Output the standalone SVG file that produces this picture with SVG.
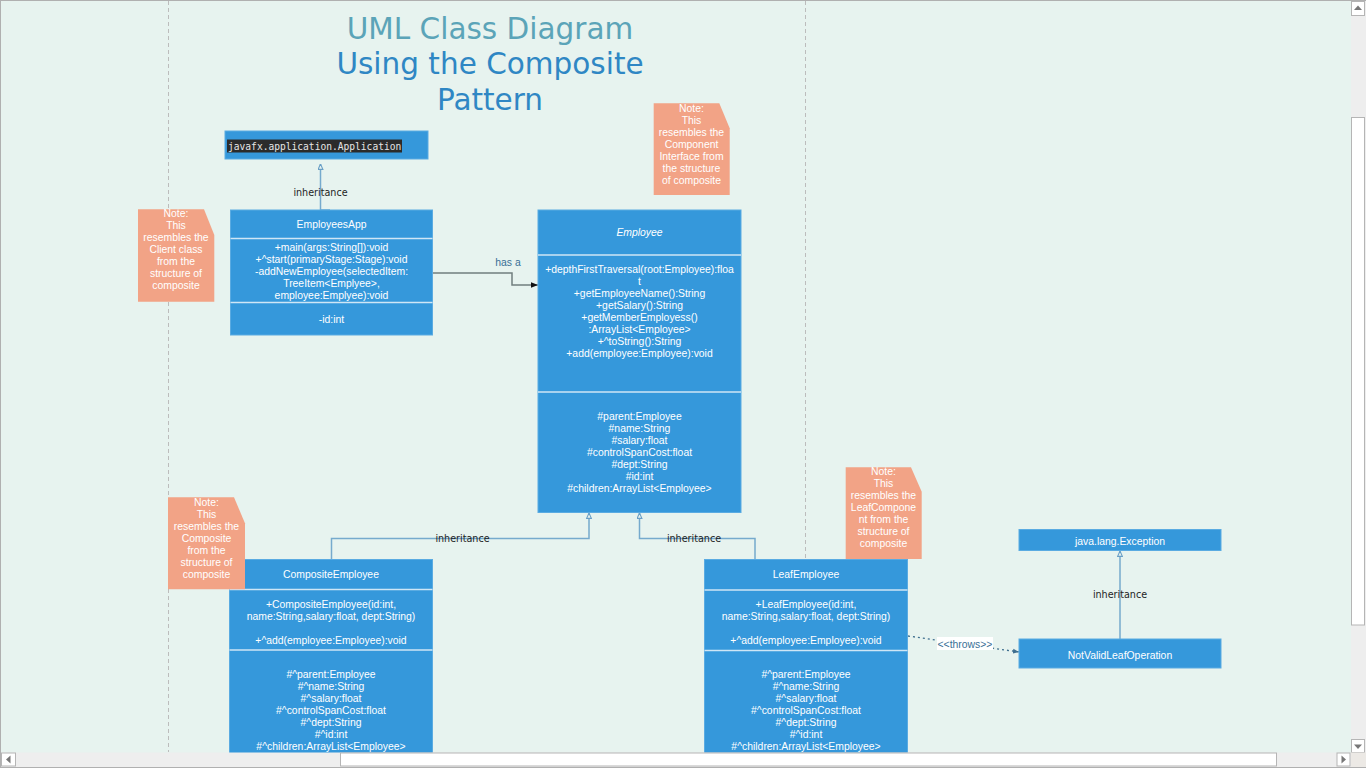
<svg xmlns="http://www.w3.org/2000/svg" width="1366" height="768" viewBox="0 0 1366 768">
<defs>
<style>
.box{fill:#3598db;stroke:#5aabe2;stroke-width:1}
.div{stroke:#cfe6f6;stroke-width:1.5}
.bt{font-family:"Liberation Sans",Arial,sans-serif;font-size:10.4px;fill:#ffffff;text-anchor:middle}
.note{fill:#f2a386}
.nt{font-family:"Liberation Sans",Arial,sans-serif;font-size:10.4px;fill:#ffffff;text-anchor:middle}
.inh{fill:none;stroke:#76aacd;stroke-width:1.5}
.lbl{font-family:"DejaVu Sans",sans-serif;font-size:9.6px;fill:#1e1e1e;text-anchor:middle}
.blbl{font-family:"Liberation Sans",Arial,sans-serif;font-size:10.4px;fill:#3a6f96;text-anchor:middle}
.sb{fill:#ffffff;stroke:#b5b5b5;stroke-width:1}
.tri{fill:#777777}
</style>
<marker id="hollow" viewBox="0 0 10 10" refX="10" refY="5" markerWidth="6" markerHeight="6" markerUnits="userSpaceOnUse" orient="auto">
<path d="M1,1 L10,5 L1,9 Z" fill="#e7f3ef" stroke="#6a9fc6" stroke-width="1.8"/>
</marker>
<marker id="filled" viewBox="0 0 10 10" refX="10" refY="5" markerWidth="7" markerHeight="7" markerUnits="userSpaceOnUse" orient="auto">
<path d="M0,1 L10,5 L0,9 Z" fill="#111111"/>
</marker>
<marker id="dotarrow" viewBox="0 0 10 10" refX="10" refY="5" markerWidth="6" markerHeight="6" markerUnits="userSpaceOnUse" orient="auto">
<path d="M0,1 L10,5 L0,9 Z" fill="#3f6f8f"/>
</marker>
</defs>

<rect x="0" y="0" width="1366" height="768" fill="#e7f3ef"/>
<line x1="0" y1="0.5" x2="1366" y2="0.5" stroke="#b0b0b0" stroke-width="1"/>
<line x1="0.5" y1="0" x2="0.5" y2="768" stroke="#b0b0b0" stroke-width="1"/>

<g id="swimlanes">
<line x1="168.5" y1="1" x2="168.5" y2="752" stroke="#bcbcbc" stroke-width="1" stroke-dasharray="4,3"/>
<line x1="805.5" y1="1" x2="805.5" y2="752" stroke="#bcbcbc" stroke-width="1" stroke-dasharray="4,3"/>
</g>

<g id="title" font-family="'DejaVu Sans',sans-serif" font-size="29.5" text-anchor="middle">
<text x="490" y="38.5" fill="#5ba4b8">UML Class Diagram</text>
<text x="490" y="74" fill="#2f87c4">Using the Composite</text>
<text x="490" y="109.5" fill="#2f87c4">Pattern</text>
</g>

<g id="connectors">
<path class="inh" d="M330,210 H320.5 V164" marker-end="url(#hollow)"/>
<text class="lbl" x="320.5" y="195.5">inheritance</text>
<path class="inh" d="M331.5,559.5 V538.5 H589 V513" marker-end="url(#hollow)"/>
<text class="lbl" x="462.5" y="542">inheritance</text>
<path class="inh" d="M755,559.5 V538.5 H639.5 V513" marker-end="url(#hollow)"/>
<text class="lbl" x="694" y="542">inheritance</text>
<path class="inh" d="M1120,639 V551" marker-end="url(#hollow)"/>
<text class="lbl" x="1120" y="598">inheritance</text>
<path d="M433,273 H512 V285 H538" fill="none" stroke="#717f7f" stroke-width="1.5" marker-end="url(#filled)"/>
<text class="blbl" x="508" y="266">has a</text>
<path d="M908,636 L1019,652" fill="none" stroke="#3f6f8f" stroke-width="1.3" stroke-dasharray="2,3" marker-end="url(#dotarrow)"/>
<rect x="937" y="637" width="56" height="13" fill="#ffffff"/>
<text class="blbl" x="965" y="647.5">&lt;&lt;throws&gt;&gt;</text>
</g>

<g id="javafx-application-Application">
<rect class="box" x="225" y="131" width="203" height="28"/>
<rect x="227" y="139.5" width="175" height="13" fill="#2b2b2b"/>
<text x="228" y="149.5" font-family="'DejaVu Sans Mono','Liberation Mono',monospace" font-size="9.6" fill="#e6e6e6">javafx.application.Application</text>
</g>

<g id="EmployeesApp">
<rect class="box" x="230.5" y="210" width="202" height="125"/>
<line class="div" x1="230.5" y1="238.5" x2="432.5" y2="238.5"/>
<line class="div" x1="230.5" y1="302.5" x2="432.5" y2="302.5"/>
<text class="bt" x="331.5" y="228">EmployeesApp</text>
<text class="bt" x="331.5" y="251">+main(args:String[]):void</text>
<text class="bt" x="331.5" y="263">+^start(primaryStage:Stage):void</text>
<text class="bt" x="331.5" y="275">-addNewEmployee(selectedItem:</text>
<text class="bt" x="331.5" y="287">TreeItem&lt;Emplyee&gt;,</text>
<text class="bt" x="331.5" y="299">employee:Emplyee):void</text>
<text class="bt" x="331.5" y="323">-id:int</text>
</g>

<g id="Employee">
<rect class="box" x="538" y="210" width="203" height="302.5"/>
<line class="div" x1="538" y1="255" x2="741" y2="255"/>
<line class="div" x1="538" y1="392" x2="741" y2="392"/>
<text class="bt" x="639.5" y="236" font-style="italic">Employee</text>
<text class="bt" x="639.5" y="273">+depthFirstTraversal(root:Employee):floa</text>
<text class="bt" x="639.5" y="285">t</text>
<text class="bt" x="639.5" y="297">+getEmployeeName():String</text>
<text class="bt" x="639.5" y="309">+getSalary():String</text>
<text class="bt" x="639.5" y="321">+getMemberEmployess()</text>
<text class="bt" x="639.5" y="333">:ArrayList&lt;Employee&gt;</text>
<text class="bt" x="639.5" y="345">+^toString():String</text>
<text class="bt" x="639.5" y="357">+add(employee:Employee):void</text>
<text class="bt" x="639.5" y="420">#parent:Employee</text>
<text class="bt" x="639.5" y="432">#name:String</text>
<text class="bt" x="639.5" y="444">#salary:float</text>
<text class="bt" x="639.5" y="456">#controlSpanCost:float</text>
<text class="bt" x="639.5" y="468">#dept:String</text>
<text class="bt" x="639.5" y="480">#id:int</text>
<text class="bt" x="639.5" y="492">#children:ArrayList&lt;Employee&gt;</text>
</g>

<g id="CompositeEmployee">
<rect class="box" x="229.5" y="559.5" width="203" height="215"/>
<line class="div" x1="229.5" y1="589.5" x2="432.5" y2="589.5"/>
<line class="div" x1="229.5" y1="650" x2="432.5" y2="650"/>
<text class="bt" x="331" y="578">CompositeEmployee</text>
<text class="bt" x="331" y="607.5">+CompositeEmployee(id:int,</text>
<text class="bt" x="331" y="619.5">name:String,salary:float, dept:String)</text>
<text class="bt" x="331" y="643.5">+^add(employee:Employee):void</text>
<text class="bt" x="331" y="678">#^parent:Employee</text>
<text class="bt" x="331" y="690">#^name:String</text>
<text class="bt" x="331" y="702">#^salary:float</text>
<text class="bt" x="331" y="714">#^controlSpanCost:float</text>
<text class="bt" x="331" y="726">#^dept:String</text>
<text class="bt" x="331" y="738">#^id:int</text>
<text class="bt" x="331" y="750">#^children:ArrayList&lt;Employee&gt;</text>
</g>

<g id="LeafEmployee">
<rect class="box" x="704.5" y="559.5" width="203" height="215"/>
<line class="div" x1="704.5" y1="590" x2="907.5" y2="590"/>
<line class="div" x1="704.5" y1="650.5" x2="907.5" y2="650.5"/>
<text class="bt" x="806" y="578">LeafEmployee</text>
<text class="bt" x="806" y="607.5">+LeafEmployee(id:int,</text>
<text class="bt" x="806" y="619.5">name:String,salary:float, dept:String)</text>
<text class="bt" x="806" y="643.5">+^add(employee:Employee):void</text>
<text class="bt" x="806" y="678">#^parent:Employee</text>
<text class="bt" x="806" y="690">#^name:String</text>
<text class="bt" x="806" y="702">#^salary:float</text>
<text class="bt" x="806" y="714">#^controlSpanCost:float</text>
<text class="bt" x="806" y="726">#^dept:String</text>
<text class="bt" x="806" y="738">#^id:int</text>
<text class="bt" x="806" y="750">#^children:ArrayList&lt;Employee&gt;</text>
</g>

<g id="java-lang-Exception">
<rect class="box" x="1019" y="529.5" width="202" height="21"/>
<text class="bt" x="1120" y="544.5">java.lang.Exception</text>
</g>

<g id="NotValidLeafOperation">
<rect class="box" x="1019" y="639" width="202" height="29"/>
<text class="bt" x="1120" y="658.5">NotValidLeafOperation</text>
</g>

<g id="note-client">
<path class="note" d="M138,209.3 H204 L214.3,235 V301.7 H138 Z"/>
<text class="nt" x="176" y="217"><tspan x="176" dy="0">Note:</tspan><tspan x="176" dy="12">This</tspan><tspan x="176" dy="12">resembles the</tspan><tspan x="176" dy="12">Client class</tspan><tspan x="176" dy="12">from the</tspan><tspan x="176" dy="12">structure of</tspan><tspan x="176" dy="12">composite</tspan></text>
</g>

<g id="note-component">
<path class="note" d="M653.7,103.3 H719.3 L729.7,128.3 V195 H653.7 Z"/>
<text class="nt" x="691.5" y="111.5"><tspan x="691.5" dy="0">Note:</tspan><tspan x="691.5" dy="12">This</tspan><tspan x="691.5" dy="12">resembles the</tspan><tspan x="691.5" dy="12">Component</tspan><tspan x="691.5" dy="12">Interface from</tspan><tspan x="691.5" dy="12">the structure</tspan><tspan x="691.5" dy="12">of composite</tspan></text>
</g>

<g id="note-leaf">
<path class="note" d="M845.7,467.3 H911 L921.7,491.7 V559 H845.7 Z"/>
<text class="nt" x="883.5" y="475"><tspan x="883.5" dy="0">Note:</tspan><tspan x="883.5" dy="12">This</tspan><tspan x="883.5" dy="12">resembles the</tspan><tspan x="883.5" dy="12">LeafCompone</tspan><tspan x="883.5" dy="12">nt from the</tspan><tspan x="883.5" dy="12">structure of</tspan><tspan x="883.5" dy="12">composite</tspan></text>
</g>

<g id="note-composite">
<path class="note" d="M168,497.3 H234 L245,523.3 V589.3 H168 Z"/>
<text class="nt" x="206.5" y="505.5"><tspan x="206.5" dy="0">Note:</tspan><tspan x="206.5" dy="12">This</tspan><tspan x="206.5" dy="12">resembles the</tspan><tspan x="206.5" dy="12">Composite</tspan><tspan x="206.5" dy="12">from the</tspan><tspan x="206.5" dy="12">structure of</tspan><tspan x="206.5" dy="12">composite</tspan></text>
</g>

<g id="scrollbars">
<rect x="1351" y="1" width="15" height="752" fill="#eeeeee"/>
<rect class="sb" x="1351.5" y="1.5" width="13" height="14"/>
<polygon class="tri" points="1354,10 1362,10 1358,5.5"/>
<rect class="sb" x="1351.5" y="117.5" width="13" height="507.5"/>
<rect class="sb" x="1351.5" y="739.5" width="13" height="13"/>
<polygon class="tri" points="1354,744.5 1362,744.5 1358,749"/>
<rect x="1" y="752.5" width="1350" height="14.5" fill="#eeeeee"/>
<rect class="sb" x="1.5" y="753" width="14" height="13"/>
<polygon class="tri" points="10.5,755.5 10.5,763.5 6,759.5"/>
<rect class="sb" x="340.5" y="753" width="936" height="13"/>
<rect class="sb" x="1337" y="753" width="13" height="13"/>
<polygon class="tri" points="1341.5,755.5 1341.5,763.5 1346,759.5"/>
<rect x="1351" y="752.5" width="15" height="14.5" fill="#ece9e5"/>
<line x1="0" y1="767.5" x2="1366" y2="767.5" stroke="#b0b0b0" stroke-width="1"/>
</g>
</svg>
